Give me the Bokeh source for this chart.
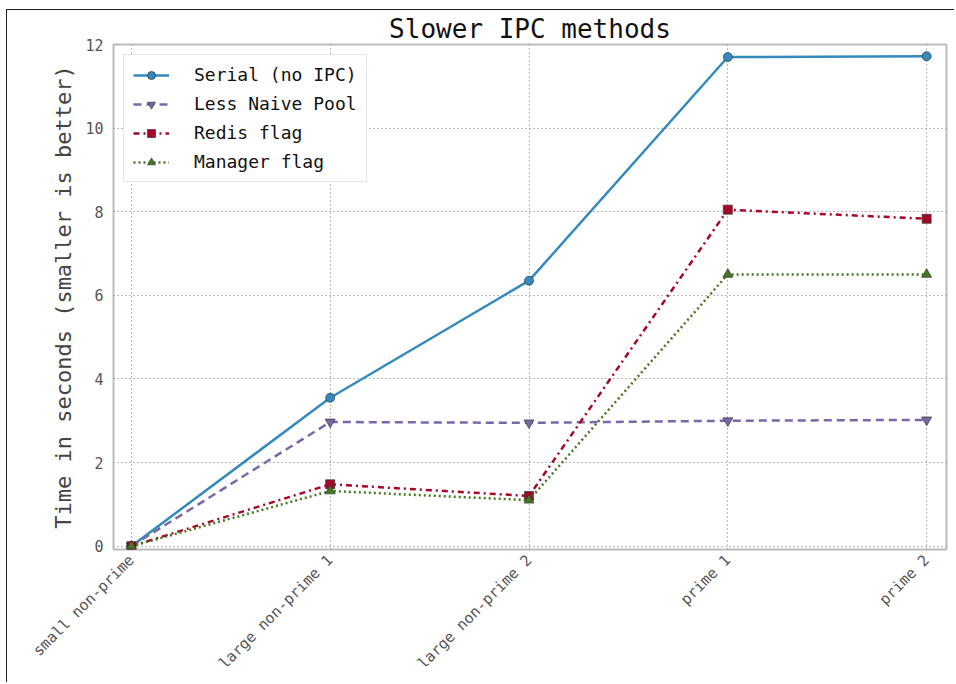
import numpy as np
from bokeh.plotting import figure
from bokeh.models import Range1d, FixedTicker, Legend, LegendItem
from bokeh.embed import file_html
from bokeh.resources import INLINE

# ---- data ----
categories = ["small non-prime", "large non-prime 1", "large non-prime 2", "prime 1", "prime 2"]
serial = [0.0, 3.55, 6.35, 11.70, 11.72]
less_naive_pool = [0.0, 2.97, 2.95, 3.00, 3.02]
redis_flag = [0.0, 1.48, 1.20, 8.05, 7.83]
manager_flag = [0.0, 1.32, 1.10, 6.50, 6.50]
y_ticks = [0, 2, 4, 6, 8, 10, 12]

x = list(range(len(categories)))
FONT = "DejaVu Sans Mono"

p = figure(width=948, height=673, output_backend="svg", toolbar_location=None,
           x_range=Range1d(-0.09, 4.1), y_range=Range1d(-0.08, 12.0),
           title="Slower IPC methods",
           min_border_left=106, min_border_right=9, min_border_top=34, min_border_bottom=134)
p.styles = {"margin-left": "6px", "margin-top": "9px",
            "border-top": "1px solid #222", "border-left": "1px solid #222"}

p.title.text_font = FONT
p.title.text_font_size = "26px"
p.title.text_font_style = "normal"
p.title.text_color = "#111"
p.title.align = "center"
p.title.standoff = 2

p.outline_line_color = "#bcbcbc"
p.outline_line_width = 2
p.background_fill_color = "white"

p.xaxis.ticker = FixedTicker(ticks=x)
p.xaxis.major_label_overrides = {i: c for i, c in enumerate(categories)}
p.xaxis.major_label_orientation = np.pi / 4
p.yaxis.ticker = FixedTicker(ticks=y_ticks)

for ax in (p.xaxis, p.yaxis):
    ax.axis_line_color = None
    ax.major_tick_line_color = None
    ax.minor_tick_line_color = None
    ax.major_tick_out = 0
    ax.major_tick_in = 0
    ax.minor_tick_out = 0
    ax.minor_tick_in = 0
    ax.major_label_text_font = FONT
    ax.major_label_text_color = "#555"
p.xaxis.major_label_text_font_size = "15px"
p.yaxis.major_label_text_font_size = "15px"
p.xaxis.major_label_standoff = 8
p.yaxis.major_label_standoff = 10

p.yaxis.axis_label = "Time in seconds (smaller is better)"
p.yaxis.axis_label_text_font = FONT
p.yaxis.axis_label_text_font_size = "22px"
p.yaxis.axis_label_text_font_style = "normal"
p.yaxis.axis_label_text_color = "#444"
p.yaxis.axis_label_standoff = 6

p.grid.grid_line_color = "#777"
p.grid.grid_line_dash = "1 3"
p.grid.grid_line_width = 1

series = [
    ("Serial (no IPC)", serial, "#348ABD", "solid", "circle", 9),
    ("Less Naive Pool", less_naive_pool, "#7A68A6", "8 5", "inverted_triangle", 10),
    ("Redis flag", redis_flag, "#A60628", "6 4 2 4", "square", 9),
    ("Manager flag", manager_flag, "#467821", "2 3", "triangle", 10),
]

items = []
for name, ys, color, dash, marker, size in series:
    ln = p.line(x, ys, line_color=color, line_width=2.5, line_dash=dash)
    sc = p.scatter(x, ys, marker=marker, size=size, fill_color=color,
                   line_color="#333", line_width=0.7)
    items.append(LegendItem(label=name, renderers=[ln, sc]))

legend = Legend(items=items, location="top_left")
legend.label_text_font = FONT
legend.label_text_font_size = "18px"
legend.label_text_color = "#111"
legend.glyph_width = 36
legend.glyph_height = 20
legend.label_standoff = 25
legend.spacing = 8
legend.padding = 9
legend.margin = 10
legend.border_line_color = "#cccccc"
legend.border_line_width = 1
legend.background_fill_color = "white"
legend.background_fill_alpha = 1.0
p.add_layout(legend, "center")

open("out.html", "w").write(file_html(p, INLINE))
